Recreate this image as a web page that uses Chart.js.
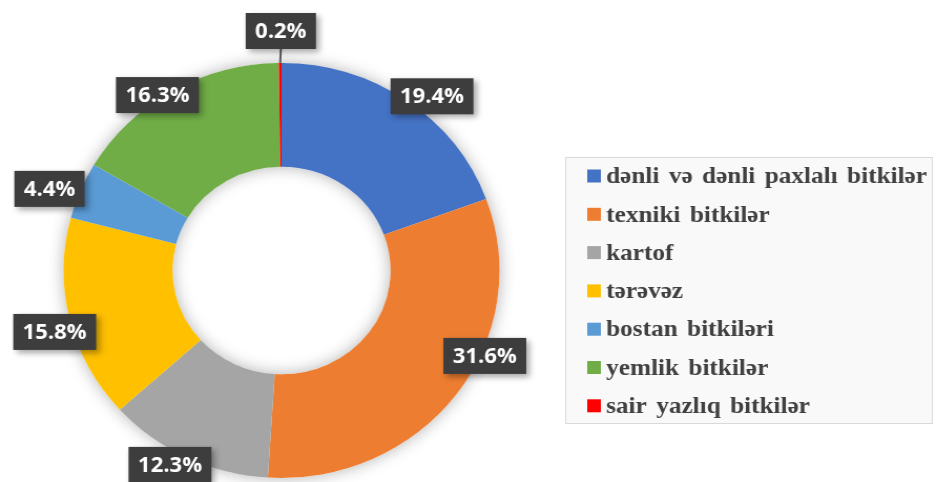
<!DOCTYPE html>
<html>
<head>
<meta charset="utf-8">
<script src="https://cdn.jsdelivr.net/npm/chart.js@4.4.1/dist/chart.umd.min.js"></script>
<style>
  html, body { margin: 0; padding: 0; background: #fff; }
</style>
</head>
<body>
<!-- canvas is drawn 891 wide and stretched to 936, like the original picture -->
<canvas id="pie" width="891" height="482" style="display:block;width:936px;height:482px"></canvas>
<script>
// --- data ---
const categories = [
  'dənli və dənli paxlalı bitkilər',
  'texniki bitkilər',
  'kartof',
  'tərəvəz',
  'bostan bitkiləri',
  'yemlik bitkilər',
  'sair yazlıq bitkilər'
];
const shares = [19.4, 31.6, 12.3, 15.8, 4.4, 16.3, 0.2];
const valueLabels = shares.map(v => v.toFixed(1) + '%');

// --- style ---
const sliceColors = ['#4472C4', '#ED7D31', '#A5A5A5', '#FFC000', '#5B9BD5', '#70AD47', '#FF0000'];
// label placement: angle nudge (deg) from slice middle, distance past outer edge (px)
const labelNudge = [
  { da: 4.5, r: 18 },
  { da: -12.9, r: 4 },
  { da: 2.9, r: 14 },
  { da: -2.2, r: 17 },
  { da: -2.4, r: 28 },
  { da: -3.9, r: 4 },
  { da: 0.2, r: 32, leader: true }
];

// soft shadow under the ring (shows outside and inside the hole)
const ringShadow = {
  id: 'ringShadow',
  beforeDatasetsDraw(chart) {
    const arc = chart.getDatasetMeta(0).data[0];
    if (!arc) return;
    const p = arc.getProps(['x', 'y', 'outerRadius', 'innerRadius'], true);
    const ctx = chart.ctx;
    ctx.save();
    ctx.shadowColor = 'rgba(0,0,0,0.3)';
    ctx.shadowBlur = 16;
    ctx.fillStyle = '#ffffff';
    ctx.beginPath();
    ctx.arc(p.x, p.y, p.outerRadius, 0, Math.PI * 2);
    ctx.moveTo(p.x + p.innerRadius, p.y);
    ctx.arc(p.x, p.y, p.innerRadius, 0, Math.PI * 2, true);
    ctx.fill();
    ctx.restore();
  }
};

// dark boxed percentage labels
const boxLabels = {
  id: 'boxLabels',
  afterDatasetsDraw(chart) {
    const ctx = chart.ctx;
    const meta = chart.getDatasetMeta(0);
    ctx.save();
    ctx.font = 'bold 21px "Open Sans"';
    ctx.textAlign = 'center';
    ctx.textBaseline = 'middle';
    meta.data.forEach((arc, i) => {
      const p = arc.getProps(['x', 'y', 'startAngle', 'endAngle', 'outerRadius'], true);
      const n = labelNudge[i];
      const realMid = (p.startAngle + p.endAngle) / 2;
      const mid = realMid + n.da * Math.PI / 180;
      const r = p.outerRadius + n.r;
      const cx = p.x + Math.cos(mid) * r;
      const cy = p.y + Math.sin(mid) * r;
      const text = valueLabels[i];
      const w = ctx.measureText(text).width + 18;
      const h = 36;

      if (n.leader) {
        ctx.strokeStyle = '#595959';
        ctx.lineWidth = 2;
        ctx.beginPath();
        ctx.moveTo(p.x + Math.cos(realMid) * p.outerRadius, p.y + Math.sin(realMid) * p.outerRadius);
        ctx.lineTo(cx, cy + h / 2);
        ctx.stroke();
      }

      ctx.save();
      ctx.shadowColor = 'rgba(0,0,0,0.35)';
      ctx.shadowBlur = 6;
      ctx.shadowOffsetX = 3;
      ctx.shadowOffsetY = 3;
      ctx.fillStyle = '#3d3d3d';
      ctx.fillRect(cx - w / 2, cy - h / 2, w, h);
      ctx.restore();

      ctx.fillStyle = '#ffffff';
      ctx.fillText(text, cx, cy + 1);
    });
    ctx.restore();
  }
};

// boxed legend on the right
const boxLegend = {
  id: 'boxLegend',
  afterDraw(chart) {
    const ctx = chart.ctx;
    const left = 538, top = 157, right = 888, bottom = 424;
    ctx.save();
    ctx.fillStyle = '#f9f9f9';
    ctx.fillRect(left, top, right - left, bottom - top);
    ctx.strokeStyle = '#d9d9d9';
    ctx.lineWidth = 1;
    ctx.strokeRect(left + 0.5, top + 0.5, right - left - 1, bottom - top - 1);

    ctx.font = 'bold 24px "Liberation Serif"';
    ctx.wordSpacing = '3px';
    ctx.textBaseline = 'middle';
    ctx.textAlign = 'left';
    categories.forEach((label, i) => {
      const y = 176 + i * 38.3;
      ctx.fillStyle = sliceColors[i];
      ctx.fillRect(559, y - 6.5, 13, 13);
      ctx.fillStyle = '#404040';
      ctx.fillText(label, 577, y + 1);
    });
    ctx.restore();
  }
};

const ctx = document.getElementById('pie').getContext('2d');
const pieChart = new Chart(ctx, {
  type: 'doughnut',
  data: {
    labels: categories,
    datasets: [{
      data: shares,
      backgroundColor: sliceColors,
      borderWidth: 0,
      hoverOffset: 0
    }]
  },
  options: {
    responsive: false,
    animation: false,
    cutout: '50%',
    layout: { padding: { left: 60, right: 415, top: 63, bottom: 4 } },
    plugins: {
      legend: { display: false },
      tooltip: { enabled: false },
      title: { display: false }
    }
  },
  plugins: [ringShadow, boxLabels, boxLegend]
});
</script>
</body>
</html>
